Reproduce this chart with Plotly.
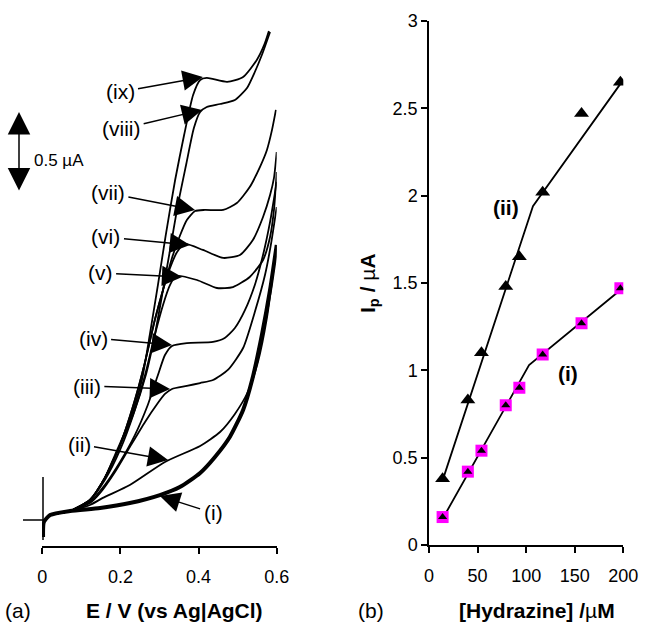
import plotly.graph_objects as go

W, H = 651, 626
FONT = "Liberation Sans, Arial, Helvetica, sans-serif"

# ---------------- Panel (a): linear sweep voltammograms (E / V, I / uA) ----------------
curve_names = ["(i)", "(ii)", "(iii)", "(iv)", "(v)", "(vi)", "(vii)", "(viii)", "(ix)"]

E_i = [0.002, 0.004, 0.020, 0.071, 0.148, 0.224, 0.301, 0.352, 0.404, 0.442, 0.480, 0.514, 0.537, 0.562, 0.583, 0.600]
I_i = [-0.106, -0.013, 0.031, 0.056, 0.075, 0.106, 0.156, 0.206, 0.294, 0.394, 0.519, 0.688, 0.875, 1.156, 1.438, 1.719]

E_ii = [0.002, 0.004, 0.020, 0.071, 0.122, 0.155, 0.224, 0.314, 0.404, 0.455, 0.493, 0.526, 0.552, 0.575, 0.600]
I_ii = [-0.106, -0.013, 0.031, 0.056, 0.094, 0.138, 0.219, 0.363, 0.463, 0.55, 0.663, 0.8, 0.988, 1.263, 1.719]

E_iii = [0.002, 0.004, 0.020, 0.071, 0.122, 0.148, 0.186, 0.224, 0.263, 0.294, 0.314, 0.332, 0.370, 0.404, 0.437, 0.475, 0.514, 0.544, 0.570, 0.585, 0.600]
I_iii = [-0.106, -0.013, 0.031, 0.056, 0.106, 0.169, 0.3, 0.456, 0.613, 0.725, 0.788, 0.819, 0.838, 0.856, 0.875, 0.938, 1.075, 1.3, 1.531, 1.719, 1.956]

E_iv = [0.002, 0.004, 0.020, 0.071, 0.122, 0.160, 0.199, 0.237, 0.270, 0.296, 0.314, 0.332, 0.370, 0.437, 0.467, 0.493, 0.519, 0.544, 0.565, 0.583, 0.600]
I_iv = [-0.106, -0.013, 0.031, 0.056, 0.113, 0.219, 0.363, 0.531, 0.719, 0.906, 1.031, 1.088, 1.106, 1.113, 1.138, 1.2, 1.313, 1.469, 1.656, 1.863, 2.113]

E_v = [0.002, 0.004, 0.020, 0.071, 0.122, 0.160, 0.199, 0.237, 0.263, 0.288, 0.309, 0.327, 0.342, 0.396, 0.447, 0.488, 0.531, 0.565, 0.583, 0.593, 0.600]
I_v = [-0.106, -0.013, 0.031, 0.056, 0.125, 0.25, 0.438, 0.688, 0.906, 1.156, 1.344, 1.469, 1.525, 1.5, 1.45, 1.456, 1.519, 1.625, 1.769, 1.938, 2.175]

E_vi = [0.002, 0.004, 0.020, 0.071, 0.122, 0.160, 0.199, 0.237, 0.263, 0.288, 0.309, 0.327, 0.345, 0.365, 0.411, 0.463, 0.506, 0.539, 0.565, 0.583, 0.593, 0.600]
I_vi = [-0.106, -0.013, 0.031, 0.056, 0.125, 0.263, 0.469, 0.75, 0.988, 1.25, 1.438, 1.575, 1.675, 1.725, 1.688, 1.638, 1.656, 1.75, 1.894, 2.031, 2.138, 2.3]

E_vii = [0.002, 0.004, 0.020, 0.071, 0.122, 0.160, 0.199, 0.237, 0.263, 0.288, 0.309, 0.332, 0.352, 0.370, 0.391, 0.416, 0.463, 0.498, 0.531, 0.557, 0.575, 0.588, 0.598]
I_vii = [-0.106, -0.013, 0.031, 0.056, 0.125, 0.263, 0.469, 0.75, 0.988, 1.25, 1.438, 1.638, 1.775, 1.875, 1.931, 1.938, 1.938, 1.981, 2.081, 2.206, 2.313, 2.438, 2.563]

E_viii = [0.002, 0.004, 0.020, 0.071, 0.122, 0.160, 0.194, 0.232, 0.265, 0.288, 0.309, 0.327, 0.347, 0.368, 0.388, 0.404, 0.421, 0.455, 0.493, 0.524, 0.544, 0.562, 0.583]
I_viii = [-0.106, -0.013, 0.031, 0.056, 0.125, 0.263, 0.438, 0.656, 0.906, 1.156, 1.438, 1.688, 1.969, 2.219, 2.45, 2.55, 2.581, 2.6, 2.625, 2.7, 2.8, 2.906, 3.05]

E_ix = [0.002, 0.004, 0.020, 0.071, 0.122, 0.160, 0.186, 0.224, 0.255, 0.275, 0.296, 0.316, 0.340, 0.363, 0.386, 0.404, 0.421, 0.473, 0.514, 0.549, 0.568, 0.580]
I_ix = [-0.106, -0.013, 0.031, 0.056, 0.125, 0.263, 0.406, 0.625, 0.875, 1.156, 1.469, 1.781, 2.125, 2.406, 2.656, 2.75, 2.763, 2.738, 2.769, 2.875, 2.969, 3.056]

curves_E = [E_i, E_ii, E_iii, E_iv, E_v, E_vi, E_vii, E_viii, E_ix]
curves_I = [I_i, I_ii, I_iii, I_iv, I_v, I_vi, I_vii, I_viii, I_ix]

# label positions (E, I) and arrow targets (E, I) for panel (a)
label_E = [0.437, 0.094, 0.114, 0.130, 0.148, 0.163, 0.168, 0.202, 0.199]
label_I = [0.044, 0.475, 0.8375, 1.1375, 1.544, 1.769, 2.044, 2.444, 2.675]
target_E = [0.301, 0.322, 0.327, 0.332, 0.358, 0.378, 0.391, 0.409, 0.411]
target_I = [0.150, 0.375, 0.819, 1.094, 1.519, 1.719, 1.938, 2.563, 2.769]

E_ticks = [0, 0.2, 0.4, 0.6]
scale_bar_uA = 0.5

# ---------------- Panel (b): peak current vs concentration ----------------
conc = [14, 40, 54, 79, 93, 117, 157, 197]
Ip_ii = [0.38, 0.83, 1.10, 1.48, 1.65, 2.02, 2.47, 2.65]
Ip_i = [0.16, 0.42, 0.54, 0.80, 0.90, 1.09, 1.27, 1.47]
fit_ii_x = [14, 107, 197]
fit_ii_y = [0.37, 1.94, 2.64]
fit_i_x = [14, 103, 197]
fit_i_y = [0.15, 1.03, 1.46]
Ip_ticks = [0, 0.5, 1, 1.5, 2, 2.5, 3]
conc_ticks = [0, 50, 100, 150, 200]

# ---------------- figure ----------------
def px(x):
    return x / W

def py(y):
    return 1 - y / H

fig = go.Figure()

for k, (e, i) in enumerate(zip(curves_E, curves_I)):
    fig.add_trace(go.Scatter(
        x=e, y=i, mode="lines", xaxis="x", yaxis="y",
        line=dict(color="black", width=4 if k == 0 else 1.8, shape="spline", smoothing=0.6),
        showlegend=False, hoverinfo="skip"))

fig.add_trace(go.Scatter(x=fit_ii_x, y=fit_ii_y, mode="lines", xaxis="x2", yaxis="y2",
                         line=dict(color="black", width=1.8), showlegend=False))
fig.add_trace(go.Scatter(x=fit_i_x, y=fit_i_y, mode="lines", xaxis="x2", yaxis="y2",
                         line=dict(color="black", width=1.8), showlegend=False))
fig.add_trace(go.Scatter(x=conc, y=Ip_i, mode="markers", xaxis="x2", yaxis="y2",
                         marker=dict(symbol="square", size=12, color="#ff00ff", line=dict(width=0)),
                         showlegend=False))
fig.add_trace(go.Scatter(x=conc, y=Ip_i, mode="markers", xaxis="x2", yaxis="y2",
                         marker=dict(symbol="triangle-up", size=8, color="black", line=dict(width=0)),
                         showlegend=False))
fig.add_trace(go.Scatter(x=conc, y=Ip_ii, mode="markers", xaxis="x2", yaxis="y2",
                         marker=dict(symbol="triangle-up", size=13, color="black", line=dict(width=0)),
                         showlegend=False))

annotations = []
for name, lx, ly, tx, ty in zip(curve_names, label_E, label_I, target_E, target_I):
    annotations.append(dict(
        x=tx, y=ty, xref="x", yref="y", ax=lx, ay=ly, axref="x", ayref="y",
        text=name, showarrow=True, arrowhead=2, arrowsize=2.7, arrowwidth=1.5,
        arrowcolor="black", standoff=0, startstandoff=2,
        font=dict(family=FONT, size=21, color="black")))

# scale bar 0.5 uA (160 px per uA)
annotations.append(dict(x=px(19), y=py(112), xref="paper", yref="paper",
                        ax=0, ay=scale_bar_uA * 160, text="", showarrow=True,
                        arrowhead=2, arrowsize=3, arrowwidth=1.5, arrowside="end+start",
                        startarrowhead=2, startarrowsize=3, arrowcolor="black"))


def text_at(x, y, text, size=21, angle=0, xanchor="center"):
    return dict(x=px(x), y=py(y), xref="paper", yref="paper", text=text,
                xanchor=xanchor, yanchor="middle", textangle=angle, showarrow=False,
                font=dict(family=FONT, size=size, color="black"))


annotations += [
    text_at(32, 160, "%g µA" % scale_bar_uA, size=17, xanchor="left"),
    text_at(174, 610, "<b>E / V (vs Ag|AgCl)</b>"),
    text_at(18, 610, "(a)"),
    text_at(371, 610, "(b)"),
    text_at(537, 610, "<b>[Hydrazine] /</b>µ<b>M</b>"),
    text_at(369, 283, "<b>I<sub>p</sub> / </b>µ<b>A</b>", angle=-90),
    text_at(506, 207, "<b>(ii)</b>"),
    text_at(568, 373, "<b>(i)</b>"),
]

shapes = [
    dict(type="line", xref="paper", yref="paper", x0=px(43), x1=px(43), y0=py(477), y1=py(540),
         line=dict(color="black", width=1.5)),
    dict(type="line", xref="paper", yref="paper", x0=px(23), x1=px(47), y0=py(520), y1=py(520),
         line=dict(color="black", width=1.5)),
]

axis_common = dict(showgrid=False, zeroline=False, showline=True, linecolor="black", linewidth=1.5,
                   ticks="outside", ticklen=6, tickwidth=1.5, tickcolor="black", automargin=False,
                   tickfont=dict(family=FONT, size=18, color="black"))

fig.update_layout(
    width=W, height=H, margin=dict(l=0, r=0, t=0, b=0, pad=0, autoexpand=False),
    paper_bgcolor="white", plot_bgcolor="white", showlegend=False,
    xaxis=dict(domain=[px(42.3), px(276.7)], range=[0, 0.6], tickvals=E_ticks,
               anchor="y", ticklabelstandoff=8, **axis_common),
    yaxis=dict(domain=[py(546), py(20)], range=[(520 - 546) / 160, (520 - 20) / 160],
               visible=False, anchor="x", automargin=False),
    xaxis2=dict(domain=[px(429), px(623.3)], range=[0, 200], tickvals=conc_ticks,
                anchor="y2", ticklabelstandoff=8, **axis_common),
    yaxis2=dict(domain=[py(545), py(21)], range=[0, 3], tickvals=Ip_ticks,
                anchor="x2", **axis_common),
    annotations=annotations, shapes=shapes,
)

fig.write_html("out.html")
